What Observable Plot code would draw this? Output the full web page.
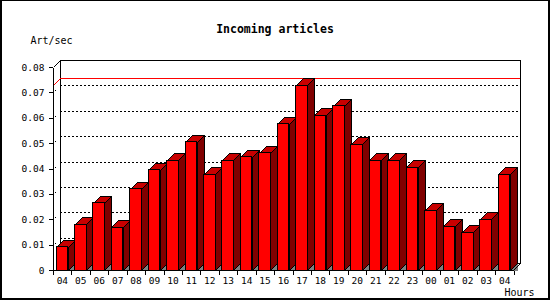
<!DOCTYPE html>
<html>
<head>
<meta charset="utf-8">
<script src="https://cdn.jsdelivr.net/npm/d3@7"></script>
<script src="https://cdn.jsdelivr.net/npm/@observablehq/plot@0.6"></script>
<style>
  body { margin: 0; background: #fff; }
  #wrap { position: relative; width: 550px; height: 300px; overflow: hidden; }
  #wrap svg { display: block; }
  #frame { position: absolute; left: 0; top: 0; width: 550px; height: 300px; box-sizing: border-box;
           border-style: solid; border-color: #000; border-width: 1px 2px 2px 2px; pointer-events: none; }
</style>
</head>
<body>
<div id="wrap"><div id="frame"></div></div>
<script>
// ---- data ----
const hours = ["04","05","06","07","08","09","10","11","12","13","14","15","16","17","18","19","20","21","22","23","00","01","02","03","04"];
const rates = [0.0092,0.0180,0.0265,0.0168,0.0321,0.0396,0.0432,0.0506,0.0377,0.0432,0.0447,0.0463,0.0577,0.0728,0.0609,0.0648,0.0495,0.0432,0.0432,0.0404,0.0235,0.0172,0.0148,0.0200,0.0377];
const yTicks = [0, 0.01, 0.02, 0.03, 0.04, 0.05, 0.06, 0.07, 0.08];
const yTickLabels = ["0", "0.01", "0.02", "0.03", "0.04", "0.05", "0.06", "0.07", "0.08"];
const gridTicks = [0.01, 0.02, 0.03, 0.04, 0.05, 0.06, 0.07];
const title = "Incoming articles";
const yLabel = "Art/sec";
const xLabel = "Hours";

const data = rates.map((v, i) => ({i, hour: hours[i], v}));
const maxRate = d3.max(rates);

// ---- style ----
const DEPTH = 7;
const PAD_IN = 0.376, PAD_OUT = 0.168;
const FONT = "'DejaVu Sans Mono', monospace";
const C_FRONT = "#ff0000", C_TOP = "#c80000", C_SIDE = "#800000", C_SHADOW = "#808080";

const px = v => Math.round(v) + 0.5;

function frameGeom(scales, dim) {
  const L = dim.marginLeft, R = dim.width - dim.marginRight;
  const B = scales.y(0), T = scales.y(yTicks[yTicks.length - 1]);
  return {L, R, B, T};
}

// back plane of the 3D box
function backdrop(index, scales, values, dim) {
  const {L, R, B, T} = frameGeom(scales, dim);
  const g = d3.create("svg:g").attr("fill", "none").attr("stroke", "#000").attr("shape-rendering", "crispEdges");
  g.append("rect").attr("x", px(L + DEPTH)).attr("y", px(T - DEPTH))
    .attr("width", Math.round(R - L)).attr("height", Math.round(B - T)).attr("fill", "#fff");
  return g.node();
}

// diagonal lines on the left wall + red max diagonal
function wallDiagonals(index, scales, values, dim) {
  const {L} = frameGeom(scales, dim);
  const g = d3.create("svg:g").attr("fill", "none").attr("shape-rendering", "crispEdges");
  for (const t of gridTicks) {
    const y = scales.y(t);
    g.append("path").attr("d", `M${px(L)},${px(y)}L${px(L + DEPTH)},${px(y - DEPTH)}`)
      .attr("stroke", "#000").attr("stroke-dasharray", "0,2,2,20");
  }
  const ym = scales.y(maxRate);
  g.append("path").attr("d", `M${px(L)},${px(ym)}L${px(L + DEPTH)},${px(ym - DEPTH)}`).attr("stroke", C_FRONT);
  return g.node();
}

// top and side faces + floor shadow of each bar
function bars3d(index, scales, values, dim) {
  const x = scales.x, y = scales.y;
  const bw = typeof x.bandwidth === "function" ? x.bandwidth() : (x(1) - x(0)) * (1 - PAD_IN);
  const y0 = px(y(0));
  const g = d3.create("svg:g").attr("stroke", "#000").attr("shape-rendering", "crispEdges");
  for (const d of data) {
    const x2 = px(x(d.i) + bw), x1 = px(x(d.i));
    const yt = px(y(d.v));
    g.append("path").attr("d", `M${x2},${y0}L${x2 + DEPTH},${y0 - DEPTH}L${x2 + DEPTH},${y0}Z`)
      .attr("fill", C_SHADOW).attr("stroke", "none");
    g.append("path").attr("d", `M${x2},${yt}L${x2 + DEPTH},${yt - DEPTH}L${x2 + DEPTH},${y0 - DEPTH}L${x2},${y0}Z`)
      .attr("fill", C_SIDE);
    g.append("path").attr("d", `M${x1},${yt}L${x1 + DEPTH},${yt - DEPTH}L${x2 + DEPTH},${yt - DEPTH}L${x2},${yt}Z`)
      .attr("fill", C_TOP);
  }
  return g.node();
}

// front axis lines and box edges
function frontAxes(index, scales, values, dim) {
  const {L, R, B, T} = frameGeom(scales, dim);
  const g = d3.create("svg:g").attr("fill", "none").attr("stroke", "#000").attr("shape-rendering", "crispEdges");
  g.append("path").attr("d", `M${px(L)},${px(T)}L${px(L)},${px(B)}L${px(R)},${px(B)}`);
  g.append("path").attr("d", `M${px(L)},${px(T)}L${px(L + DEPTH)},${px(T - DEPTH)}`);
  g.append("path").attr("d", `M${px(R)},${px(B)}L${px(R + DEPTH)},${px(B - DEPTH)}`);
  // x ticks between bars
  const x = scales.x;
  const step = x(1) - x(0);
  const start = x(0) - PAD_OUT * step;
  for (let k = 0; k <= hours.length; k++) {
    const xx = px(start + k * step);
    g.append("path").attr("d", `M${xx},${px(B)}L${xx},${px(B) + 4}`);
  }
  return g.node();
}

const plot = Plot.plot({
  width: 550,
  height: 300,
  marginTop: 67,
  marginRight: 37,
  marginBottom: 30,
  marginLeft: 53,
  style: {fontFamily: FONT, fontSize: "9.5px", color: "#000", background: "#fff", overflow: "visible"},
  x: {domain: d3.range(hours.length), paddingInner: PAD_IN, paddingOuter: PAD_OUT, round: false, axis: null},
  y: {domain: [0, 0.08], axis: null},
  marks: [
    backdrop,
    Plot.ruleY(gridTicks, {dx: DEPTH, dy: -DEPTH, stroke: "#000", strokeDasharray: "2,2", shapeRendering: "crispEdges"}),
    Plot.ruleY([maxRate], {dx: DEPTH, dy: -DEPTH, stroke: C_FRONT, shapeRendering: "crispEdges"}),
    wallDiagonals,
    bars3d,
    Plot.barY(data, {x: "i", y: "v", fill: C_FRONT, stroke: "#000", shapeRendering: "crispEdges"}),
    frontAxes,
    Plot.axisY(yTicks, {tickSize: 4, tickPadding: 5, label: null, fontSize: 9.5,
      tickFormat: d => yTickLabels[yTicks.indexOf(d)], shapeRendering: "crispEdges"}),
    Plot.axisX({tickSize: 0, tickPadding: 7, label: null, fontSize: 9.5, tickFormat: i => hours[i]}),
    Plot.text([title], {frameAnchor: "top", textAnchor: "middle", lineAnchor: "bottom", dx: -8.5, dy: -35,
      fontWeight: "bold", fontSize: 11.5}),
    Plot.text([yLabel], {frameAnchor: "top-left", textAnchor: "start", lineAnchor: "bottom", dx: -23, dy: -24, fontSize: 10}),
    Plot.text([xLabel], {frameAnchor: "bottom-right", textAnchor: "end", lineAnchor: "bottom", dx: 21, dy: 25, fontSize: 10})
  ]
});

const wrap = document.getElementById("wrap");
wrap.insertBefore(plot, document.getElementById("frame"));
</script>
</body>
</html>
